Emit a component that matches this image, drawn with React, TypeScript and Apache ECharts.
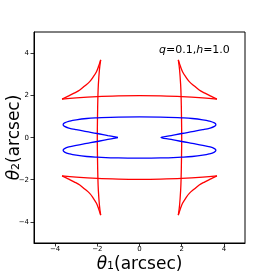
import React, { useEffect, useRef } from "react";
import * as echarts from "echarts";

const tickValues = [-4, -2, 0, 2, 4];

// red caustic, traced in order
const arcTopLeft = [[-1.84,3.68],[-1.93,3.40],[-2.04,3.12],[-2.20,2.86],[-2.36,2.65],[-2.60,2.44],[-2.83,2.25],[-3.10,2.10],[-3.38,1.96],[-3.67,1.82]];
const lineTop = [[-3.67,1.82],[-3.0,1.88],[-2.0,1.94],[-1.0,1.97],[0,1.98],[1.0,1.97],[2.0,1.94],[3.0,1.88],[3.67,1.82]];
const arcTopRight = [[3.67,1.82],[3.38,1.96],[3.10,2.10],[2.83,2.25],[2.60,2.44],[2.36,2.65],[2.20,2.86],[2.04,3.12],[1.93,3.40],[1.84,3.68]];
const lineRight = [[1.84,3.68],[1.90,3.2],[1.95,2.5],[1.97,2.0],[1.99,1.0],[2.0,0],[1.99,-1.0],[1.97,-2.0],[1.95,-2.5],[1.90,-3.2],[1.84,-3.68]];
const arcBottomRight = [[1.84,-3.68],[1.93,-3.40],[2.04,-3.12],[2.20,-2.86],[2.36,-2.65],[2.60,-2.44],[2.83,-2.25],[3.10,-2.10],[3.38,-1.96],[3.67,-1.82]];
const lineBottom = [[3.67,-1.82],[3.0,-1.88],[2.0,-1.94],[1.0,-1.97],[0,-1.98],[-1.0,-1.97],[-2.0,-1.94],[-3.0,-1.88],[-3.67,-1.82]];
const arcBottomLeft = [[-3.67,-1.82],[-3.38,-1.96],[-3.10,-2.10],[-2.83,-2.25],[-2.60,-2.44],[-2.36,-2.65],[-2.20,-2.86],[-2.04,-3.12],[-1.93,-3.40],[-1.84,-3.68]];
const lineLeft = [[-1.84,-3.68],[-1.90,-3.2],[-1.95,-2.5],[-1.97,-2.0],[-1.99,-1.0],[-2.0,0],[-1.99,1.0],[-1.97,2.0],[-1.95,2.5],[-1.90,3.2],[-1.84,3.68]];

// blue critical curve
const criticalCurve = [
  [-1.02,0],[-1.5,0.09],[-2.0,0.19],[-2.5,0.28],[-3.0,0.37],[-3.35,0.45],[-3.55,0.53],[-3.62,0.61],[-3.55,0.69],[-3.3,0.78],[-3.0,0.84],[-2.5,0.90],[-2.0,0.93],[-1.0,0.97],[0,0.98],
  [1.0,0.97],[2.0,0.93],[2.5,0.90],[3.0,0.84],[3.3,0.78],[3.55,0.69],[3.62,0.61],[3.55,0.53],[3.35,0.45],[3.0,0.37],[2.5,0.28],[2.0,0.19],[1.5,0.09],[1.02,0],
  [1.5,-0.09],[2.0,-0.19],[2.5,-0.28],[3.0,-0.37],[3.35,-0.45],[3.55,-0.53],[3.62,-0.61],[3.55,-0.69],[3.3,-0.78],[3.0,-0.84],[2.5,-0.90],[2.0,-0.93],[1.0,-0.97],[0,-0.98],
  [-1.0,-0.97],[-2.0,-0.93],[-2.5,-0.90],[-3.0,-0.84],[-3.3,-0.78],[-3.55,-0.69],[-3.62,-0.61],[-3.55,-0.53],[-3.35,-0.45],[-3.0,-0.37],[-2.5,-0.28],[-2.0,-0.19],[-1.5,-0.09],[-1.02,0],
];

const redSegments = [
  { d: arcTopLeft, smooth: 0.4 }, { d: lineTop, smooth: 0.4 }, { d: arcTopRight, smooth: 0.4 }, { d: lineRight, smooth: 0.4 },
  { d: arcBottomRight, smooth: 0.4 }, { d: lineBottom, smooth: 0.4 }, { d: arcBottomLeft, smooth: 0.4 }, { d: lineLeft, smooth: 0.4 },
];

const fmt = (v: number) => (v < 0 ? "\u2212" + Math.abs(v) : String(v));
const FONT = "DejaVu Sans";

export default function App() {
  const ref = useRef<HTMLDivElement>(null);
  useEffect(() => {
    const chart = echarts.init(ref.current!, null, { renderer: "svg" });
    const axisCommon = (isX: boolean) => ({
      type: "value",
      min: -5,
      max: 5,
      splitLine: { show: false },
      axisLine: { show: true, onZero: false, lineStyle: { color: "#000", width: 1 } },
      axisTick: { show: true, customValues: tickValues, length: 3.5, lineStyle: { color: "#000", width: 0.8 } },
      axisLabel: { customValues: tickValues, formatter: fmt, fontSize: 7, color: "#000", fontFamily: FONT, margin: isX ? 2 : 5 },
      nameLocation: "middle",
      nameMoveOverlap: false,
      nameTextStyle: {
        fontFamily: FONT,
        fontSize: 17,
        color: "#000",
        rich: {
          i: { fontFamily: FONT, fontSize: 17, fontStyle: "italic", color: "#000" },
          s: { fontFamily: FONT, fontSize: 11, color: "#000", verticalAlign: "bottom", padding: [5, 0, 0, 0] },
          n: { fontFamily: FONT, fontSize: 17, color: "#000" },
        },
      },
    });
    chart.setOption({
      animation: false,
      grid: { left: 34, right: 28, top: 32, bottom: 30, show: true, borderColor: "#000", borderWidth: 1, containLabel: false, outerBoundsMode: "none" },
      xAxis: { ...axisCommon(true), name: "{i|θ}{s|1}{n|(arcsec)}", nameGap: 11 },
      yAxis: { ...axisCommon(false), name: "{i|θ}{s|2}{n|(arcsec)}", nameGap: 13 },
      series: [
        ...redSegments.map((s) => ({
          type: "line",
          data: s.d,
          smooth: s.smooth,
          showSymbol: false,
          lineStyle: { color: "#ff0000", width: 1.3 },
          silent: true,
        })),
        {
          type: "line",
          data: criticalCurve,
          smooth: 0.4,
          showSymbol: false,
          lineStyle: { color: "#0000ff", width: 1.3 },
          silent: true,
        },
      ],
      graphic: [
        {
          type: "text",
          left: 159,
          top: 44,
          style: {
            text: "{i|q}=0.1,{i|h}=1.0",
            fontFamily: FONT,
            fontSize: 11,
            fill: "#000",
            rich: { i: { fontFamily: FONT, fontSize: 11, fontStyle: "italic", fill: "#000" } },
          },
        },
      ],
    });
    return () => chart.dispose();
  }, []);
  return <div ref={ref} style={{ position: "fixed", left: 0, top: 0, width: 273, height: 273 }} />;
}
